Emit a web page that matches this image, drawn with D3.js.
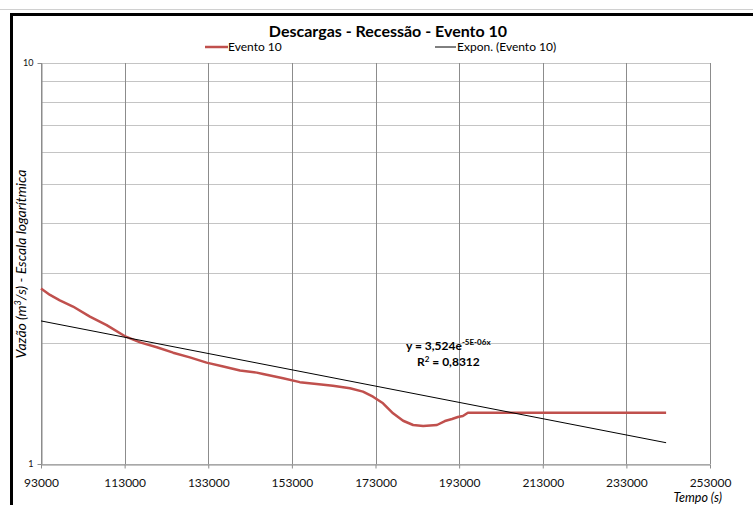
<!DOCTYPE html>
<html>

<head>
    <meta charset="utf-8">
    <title>Descargas - Recessão - Evento 10</title>
    <script src="https://d3js.org/d3.v7.min.js"></script>
    <style>
        body {
            margin: 0;
            background: #ffffff;
        }

        text {
            font-family: Lato, "Open Sans", sans-serif;
        }
    </style>
</head>

<body>
    <svg width="753" height="505"></svg>
    <script>
        // Data
        const timeS = [93000, 95150, 97500, 100650, 104700, 108700, 113000, 116700, 120700, 124600,
            128600, 132600, 136600, 140600, 144600, 146100, 150900, 154900, 158900, 162800,
            166900, 170000, 172400, 174800, 177200, 179600, 182000, 184400, 187700, 189600,
            191300, 192700, 193900, 195100, 242500];
        const flowEvento = [2.74, 2.64, 2.56, 2.47, 2.33, 2.22, 2.085, 2.01, 1.955, 1.895,
            1.845, 1.79, 1.75, 1.71, 1.69, 1.677, 1.636, 1.60, 1.583, 1.568,
            1.545, 1.515, 1.472, 1.417, 1.338, 1.282, 1.251, 1.244, 1.251, 1.28,
            1.295, 1.31, 1.317, 1.342, 1.342];

        // exponential trend line, ends (straight on a log axis)
        const trendTime = [93000, 242500];
        const trendFlow = [2.274, 1.13];

        const xTicks = [93000, 113000, 133000, 153000, 173000, 193000, 213000, 233000, 253000];
        const yGrid = [1, 2, 3, 4, 5, 6, 7, 8, 9, 10];
        const yTickLabels = [1, 10];

        const svg = d3.select("svg");

        // plot area
        const plotLeft = 41, plotRight = 710, plotTop = 63, plotBottom = 464;

        const x = d3.scaleLinear().domain([93000, 253000]).range([plotLeft, plotRight]);
        const y = d3.scaleLog().domain([1, 10]).range([plotBottom, plotTop]);

        // frame of the screenshot: thin gray line + thick black border
        svg.append("line")
            .attr("x1", 0).attr("x2", 753)
            .attr("y1", 9.5).attr("y2", 9.5)
            .attr("stroke", "#d0d0d0")
            .attr("stroke-width", 1);
        svg.append("path")
            .attr("d", "M11.5,505 V14.5 H753")
            .attr("fill", "none")
            .attr("stroke", "#000")
            .attr("stroke-width", 3);

        // horizontal gridlines
        svg.append("g")
            .selectAll("line")
            .data(yGrid)
            .join("line")
            .attr("x1", plotLeft).attr("x2", plotRight)
            .attr("y1", d => Math.round(y(d)) + 0.5)
            .attr("y2", d => Math.round(y(d)) + 0.5)
            .attr("stroke", "#c4c4c4")
            .attr("stroke-width", 1);

        // vertical gridlines (darker)
        svg.append("g")
            .selectAll("line")
            .data(xTicks)
            .join("line")
            .attr("x1", d => Math.round(x(d)) + 0.5)
            .attr("x2", d => Math.round(x(d)) + 0.5)
            .attr("y1", plotTop).attr("y2", plotBottom)
            .attr("stroke", "#8c8c8c")
            .attr("stroke-width", 1);

        // x axis
        const xAxis = svg.append("g")
            .attr("transform", `translate(0,${plotBottom + 0.5})`)
            .call(d3.axisBottom(x).tickValues(xTicks).tickFormat(d3.format("d")).tickSize(4).tickSizeOuter(0));
        xAxis.select(".domain").attr("stroke", "#8c8c8c");
        xAxis.selectAll(".tick line").attr("stroke", "#8c8c8c");
        xAxis.selectAll(".tick text")
            .attr("dy", 0)
            .attr("y", 22)
            .attr("font-size", 12)
            .attr("font-family", "Lato, sans-serif")
            .attr("fill", "#111");

        // y axis, labels only at 1 and 10
        const yAxis = svg.append("g")
            .attr("transform", `translate(${plotLeft + 0.5},0)`)
            .call(d3.axisLeft(y).tickValues(yTickLabels).tickFormat(d3.format("d")).tickSize(4).tickSizeOuter(0));
        yAxis.select(".domain").attr("stroke", "#8c8c8c");
        yAxis.selectAll(".tick line").attr("stroke", "#8c8c8c");
        yAxis.selectAll(".tick text")
            .attr("x", -8)
            .attr("font-size", 9)
            .attr("font-family", "Lato, sans-serif")
            .attr("fill", "#111");

        // series line
        const line = d3.line()
            .x((d, i) => x(timeS[i]))
            .y(d => y(d));

        svg.append("path")
            .datum(flowEvento)
            .attr("d", line)
            .attr("fill", "none")
            .attr("stroke", "#c0504d")
            .attr("stroke-width", 2.5)
            .attr("stroke-linejoin", "round");

        // trend line
        svg.append("path")
            .datum(trendFlow)
            .attr("d", d3.line().x((d, i) => x(trendTime[i])).y(d => y(d)))
            .attr("fill", "none")
            .attr("stroke", "#000")
            .attr("stroke-width", 1);

        // trend equation
        const eq = svg.append("text")
            .attr("x", 406)
            .attr("y", 350)
            .attr("font-size", 12)
            .attr("font-weight", "bold")
            .attr("fill", "#000");
        eq.append("tspan").text("y = 3,524e");
        eq.append("tspan")
            .attr("dy", -5)
            .attr("font-size", 8)
            .text("-5E-06x");
        const r2 = svg.append("text")
            .attr("x", 417)
            .attr("y", 366)
            .attr("font-size", 12)
            .attr("font-weight", "bold")
            .attr("fill", "#000");
        r2.append("tspan").text("R");
        r2.append("tspan").attr("dy", -4).attr("font-size", 8).text("2");
        r2.append("tspan").attr("dy", 4).text(" = 0,8312");

        // title
        svg.append("text")
            .attr("x", 388)
            .attr("y", 37)
            .attr("text-anchor", "middle")
            .attr("font-size", 16)
            .attr("font-weight", "bold")
            .attr("fill", "#000")
            .text("Descargas - Recessão - Evento 10");

        // legend
        svg.append("line")
            .attr("x1", 205).attr("x2", 228)
            .attr("y1", 47).attr("y2", 47)
            .attr("stroke", "#c0504d")
            .attr("stroke-width", 2.5);
        svg.append("text")
            .attr("x", 228).attr("y", 51)
            .attr("font-size", 12)
            .text("Evento 10");
        svg.append("line")
            .attr("x1", 435).attr("x2", 456)
            .attr("y1", 47).attr("y2", 47)
            .attr("stroke", "#000")
            .attr("stroke-width", 1);
        svg.append("text")
            .attr("x", 457).attr("y", 51)
            .attr("font-size", 12)
            .text("Expon. (Evento 10)");

        // axis titles
        svg.append("text")
            .attr("transform", "translate(26,264) rotate(-90)")
            .attr("text-anchor", "middle")
            .attr("font-size", 14)
            .attr("font-style", "italic")
            .html("Vazão (m<tspan dy='-5' font-size='9'>3</tspan><tspan dy='5'>/s) - Escala logarítmica</tspan>");
        svg.append("text")
            .attr("x", 722)
            .attr("y", 502)
            .attr("text-anchor", "end")
            .attr("font-size", 12.5)
            .attr("font-style", "italic")
            .text("Tempo (s)");
    </script>
</body>

</html>
